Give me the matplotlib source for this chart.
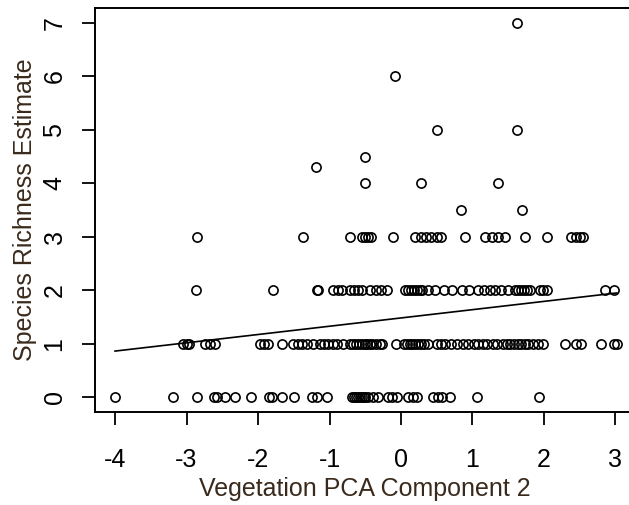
import matplotlib
matplotlib.use('Agg')
import matplotlib.pyplot as plt
import numpy as np

plt.rcParams['font.family'] = ['Liberation Sans', 'DejaVu Sans']
plt.rcParams['axes.unicode_minus'] = False

# richness = 0
x0 = [-4.0, -3.19, -2.85, -2.62, -2.58, -2.46, -2.32, -2.10, -1.85, -1.81,
      -1.67, -1.50, -1.24, -1.18, -1.03, -0.69, -0.66, -0.63, -0.60, -0.58,
      -0.55, -0.52, -0.50, -0.46, -0.39, -0.32, -0.18, -0.12, -0.06, 0.10,
      0.17, 0.22, 0.45, 0.52, 0.58, 0.69, 1.06, 1.93]
# richness = 1
x1 = [-3.05, -3.0, -2.96, -2.74, -2.67, -2.60, -1.97, -1.92, -1.86, -1.66,
      -1.51, -1.44, -1.38, -1.32, -1.23, -1.13, -1.08, -1.02, -0.95, -0.90,
      -0.81, -0.71, -0.67, -0.63, -0.59, -0.55, -0.51, -0.48, -0.44, -0.40,
      -0.35, -0.30, -0.27, -0.07, 0.04, 0.08, 0.12, 0.16, 0.20, 0.24, 0.28,
      0.32, 0.38, 0.50, 0.56, 0.62, 0.70, 0.78, 0.87, 0.94, 1.02, 1.08, 1.14,
      1.20, 1.28, 1.34, 1.43, 1.48, 1.53, 1.58, 1.63, 1.68, 1.73, 1.78, 1.84,
      1.91, 1.99, 2.30, 2.45, 2.52, 2.80, 2.98, 3.02]
# richness = 2
x2 = [-2.87, -1.79, -1.18, -1.16, -0.95, -0.88, -0.82, -0.71, -0.66, -0.60,
      -0.55, -0.43, -0.35, -0.28, -0.20, 0.06, 0.10, 0.14, 0.18, 0.22, 0.26,
      0.30, 0.38, 0.48, 0.60, 0.72, 0.85, 0.95, 1.08, 1.16, 1.24, 1.32, 1.40,
      1.50, 1.60, 1.64, 1.68, 1.72, 1.76, 1.80, 1.94, 1.98, 2.04, 2.85, 2.98]
# richness = 3
x3 = [-2.85, -1.37, -0.71, -0.55, -0.50, -0.46, -0.42, -0.11, 0.20, 0.28,
      0.35, 0.42, 0.50, 0.56, 0.90, 1.18, 1.27, 1.35, 1.45, 1.73, 2.04,
      2.38, 2.45, 2.50, 2.55]
# scattered higher estimates
x_hi = [-1.19, -0.51, -0.51, -0.08, 0.51, 0.28, 0.84, 1.36, 1.62, 1.62, 1.69]
y_hi = [4.3, 4.5, 4.0, 6.0, 5.0, 4.0, 3.5, 4.0, 7.0, 5.0, 3.5]

# fitted line
intercept = 1.48
slope = 0.155

x = np.array(x0 + x1 + x2 + x3 + x_hi)
y = np.array([0] * len(x0) + [1] * len(x1) + [2] * len(x2) + [3] * len(x3) + y_hi)

fig = plt.figure(figsize=(6.29, 5.05), dpi=100)
ax = fig.add_axes([95 / 629, 93 / 505, 540.5 / 629, 404 / 505])

ax.plot(x, y, 'o', markerfacecolor='none', markeredgecolor='black',
        markersize=6.6, markeredgewidth=1.2)
xs = np.array([x.min(), x.max()])
ax.plot(xs, intercept + slope * xs, color='black', linewidth=1.2)

ax.set_xlim(-4.28, 3.28)
ax.set_ylim(-0.28, 7.28)
ax.set_xticks(range(-4, 4))
ax.set_yticks(range(0, 8))
ax.tick_params(axis='both', length=9.5, width=1.3, labelsize=18, colors='black')
ax.tick_params(axis='x', pad=16.5)
ax.tick_params(axis='y', pad=11)
for lab in ax.get_yticklabels():
    lab.set_rotation(90)
    lab.set_va('center')
for sp in ax.spines.values():
    sp.set_linewidth(1.4)
ax.spines['right'].set_visible(False)

lab_color = '#3a2a1c'
ax.set_xlabel('Vegetation PCA Component 2', fontsize=18, color=lab_color, labelpad=3.5)
ax.set_ylabel('Species Richness Estimate', fontsize=18, color=lab_color, labelpad=4)

plt.savefig('out.png', dpi=100)
plt.close()
